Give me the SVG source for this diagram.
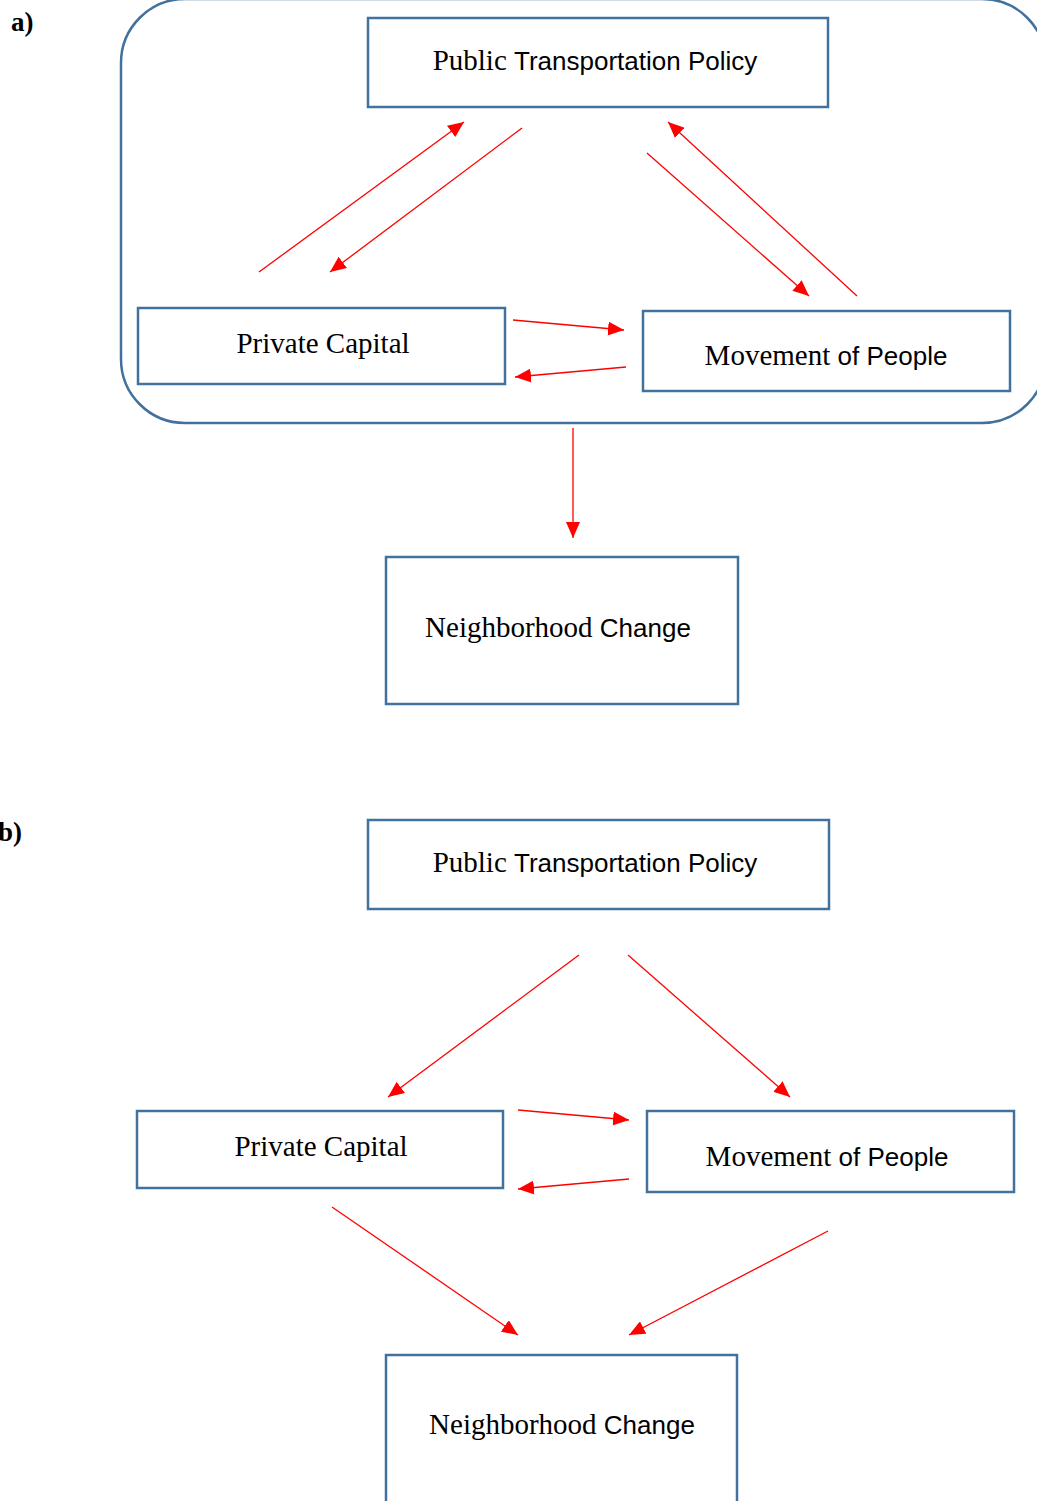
<svg xmlns="http://www.w3.org/2000/svg" width="1037" height="1501" viewBox="0 0 1037 1501">
<style>
.box{fill:#fff;stroke:#41719c;stroke-width:2.5}
.frame{fill:none;stroke:#41719c;stroke-width:2.5}
.ln{stroke:#ff0000;stroke-width:1.3;fill:none;marker-end:url(#ah)}
.t{font-size:29px;fill:#000;text-anchor:middle}
.se{font-family:"Liberation Serif","Times New Roman",serif}
.sa{font-family:"Liberation Sans",Arial,sans-serif;font-size:26px}
.lab{font-family:"Liberation Serif","Times New Roman",serif;font-weight:bold;font-size:27px;fill:#000}
</style>
<defs>
<marker id="ah" markerUnits="userSpaceOnUse" markerWidth="18" markerHeight="14" refX="16" refY="7" orient="auto">
<path d="M0,0 L16,7 L0,14 z" fill="#ff0000"/>
</marker>
</defs>
<text class="lab" x="11" y="31">a)</text>
<text class="lab" x="-2" y="841">b)</text>
<rect class="frame" x="121" y="-1" width="925" height="424" rx="64" ry="64"/>
<g id="connectors">
<line class="ln" x1="259" y1="272" x2="464" y2="122"/>
<line class="ln" x1="522" y1="128" x2="330" y2="272"/>
<line class="ln" x1="647" y1="153" x2="809" y2="296"/>
<line class="ln" x1="857" y1="296" x2="668" y2="122"/>
<line class="ln" x1="513" y1="320" x2="624" y2="330"/>
<line class="ln" x1="626" y1="367" x2="515" y2="377"/>
<line class="ln" x1="573" y1="428" x2="573" y2="538"/>
<line class="ln" x1="579" y1="955" x2="388" y2="1097"/>
<line class="ln" x1="628" y1="955" x2="790" y2="1097"/>
<line class="ln" x1="518" y1="1110" x2="629" y2="1120"/>
<line class="ln" x1="629" y1="1179" x2="518" y2="1189"/>
<line class="ln" x1="332" y1="1207" x2="518" y2="1335"/>
<line class="ln" x1="828" y1="1231" x2="629" y2="1335"/>
</g>
<g id="a-public">
<rect class="box" x="368" y="18" width="460" height="89"/>
<text class="t" x="595" y="70"><tspan class="se">Public </tspan><tspan class="sa">Transportation Policy</tspan></text>
</g>
<g id="a-private">
<rect class="box" x="138" y="308" width="367" height="76"/>
<text class="t se" x="323" y="353">Private Capital</text>
</g>
<g id="a-movement">
<rect class="box" x="643" y="311" width="367" height="80"/>
<text class="t" x="826" y="365"><tspan class="se">Movement </tspan><tspan class="sa">of People</tspan></text>
</g>
<g id="a-neighborhood">
<rect class="box" x="386" y="557" width="352" height="147"/>
<text class="t" x="558" y="637"><tspan class="se">Neighborhood </tspan><tspan class="sa">Change</tspan></text>
</g>
<g id="b-public">
<rect class="box" x="368" y="820" width="461" height="89"/>
<text class="t" x="595" y="872"><tspan class="se">Public </tspan><tspan class="sa">Transportation Policy</tspan></text>
</g>
<g id="b-private">
<rect class="box" x="137" y="1111" width="366" height="77"/>
<text class="t se" x="321" y="1156">Private Capital</text>
</g>
<g id="b-movement">
<rect class="box" x="647" y="1111" width="367" height="81"/>
<text class="t" x="827" y="1166"><tspan class="se">Movement </tspan><tspan class="sa">of People</tspan></text>
</g>
<g id="b-neighborhood">
<rect class="box" x="386" y="1355" width="351" height="150"/>
<text class="t" x="562" y="1434"><tspan class="se">Neighborhood </tspan><tspan class="sa">Change</tspan></text>
</g>
</svg>
